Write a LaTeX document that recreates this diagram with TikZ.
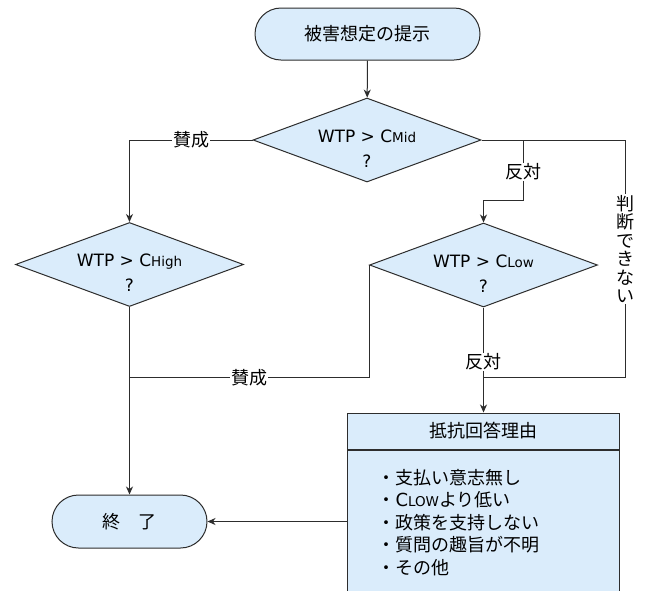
\documentclass[tikz,border=0pt]{standalone}
\usepackage{fontspec}
\setmainfont{Noto Sans CJK JP}
\newfontfamily\latf{DejaVu Sans}
\usetikzlibrary{shapes.geometric,arrows.meta}
\definecolor{boxfill}{RGB}{218,236,251}
\definecolor{linec}{RGB}{45,45,45}
\newcommand\smtxt[1]{{\fontsize{13.5}{13.5}\selectfont #1}}
\begin{document}
\begin{tikzpicture}[x=1pt,y=-1pt,
  every node/.style={font=\fontsize{18}{22}\selectfont, text=black},
  term/.style={draw=linec, fill=boxfill, line width=1pt, rectangle, inner sep=0pt},
  dec/.style={draw=linec, fill=boxfill, line width=1pt, diamond, inner sep=0pt,
    minimum width=228pt, minimum height=84pt},
  dtext/.style={align=center, font=\latf\fontsize{17}{25}\selectfont, yshift=-8.4pt},
  conn/.style={draw=linec, line width=1pt},
  arr/.style={conn, -{Stealth[length=8pt,width=7pt,inset=2.5pt]}},
  lbl/.style={fill=white, inner sep=1pt},
]
\useasboundingbox (0,0) rectangle (647,590);
\clip (0,0) rectangle (647,590);
\fill[white] (0,0) rectangle (647,590);

% nodes
\node[term, rounded corners=26pt, minimum width=225pt, minimum height=52pt] (start) at (367.5,34) {被害想定の提示};
\node[dec] (mid) at (367,140) {};
\node[dtext] (midt) at (mid.center) {WTP > C\smtxt{Mid}\\?};
\node[dec] (high) at (129.5,264.5) {};
\node[dtext] (hight) at (high.center) {WTP > C\smtxt{High}\\?};
\node[dec] (low) at (483.5,265) {};
\node[dtext] (lowt) at (low.center) {WTP > C\smtxt{Low}\\?};
\node[term, rounded corners=26.5pt, minimum width=155pt, minimum height=53pt] (end) at (129.5,521.5) {終\hspace{1em}了};
\node[draw=linec, fill=boxfill, line width=1pt, minimum width=272pt, minimum height=36pt, inner sep=0pt] (head) at (483.5,431) {抵抗回答理由};
\node[draw=linec, fill=boxfill, line width=1pt, anchor=north, minimum width=272pt, minimum height=145pt,
  text width=212pt, inner xsep=30pt, inner ysep=0pt, align=left, font=\fontsize{18}{22.5}\selectfont] (body) at (head.south)
  {・支払い意志無し\\・{\latf C\smtxt{LOW}}より低い\\・政策を支持しない\\・質問の趣旨が不明\\・その他};

% junctions
\coordinate (jr) at (625.5,140);
\coordinate (jm) at (523,140);
\coordinate (jb) at (483.5,377.5);

% connectors
\draw[arr] (start) -- (mid);
\draw[arr] (mid.west) -| node[lbl, pos=0.25] {賛成} (high.north);
\draw[conn] (mid.east) -- (jr) -- node[lbl, pos=0.46, align=center, font=\fontsize{18}{18.5}\selectfont] {判\\断\\で\\き\\な\\い} (jr |- jb) -- (jb);
\draw[arr] (jm) -- node[lbl, pos=0.53] {反対} ++(0,60) -| (low.north);
\draw[arr] (low.south) -- node[lbl, pos=0.78] {反対} (jb) -- (head.north);
\draw[conn] (low.west) |- node[lbl, pos=0.75] {賛成} (high.south |- jb);
\draw[arr] (high.south) -- (end.north);
\draw[arr] (body.west |- end.east) -- (end.east);
\end{tikzpicture}
\end{document}
